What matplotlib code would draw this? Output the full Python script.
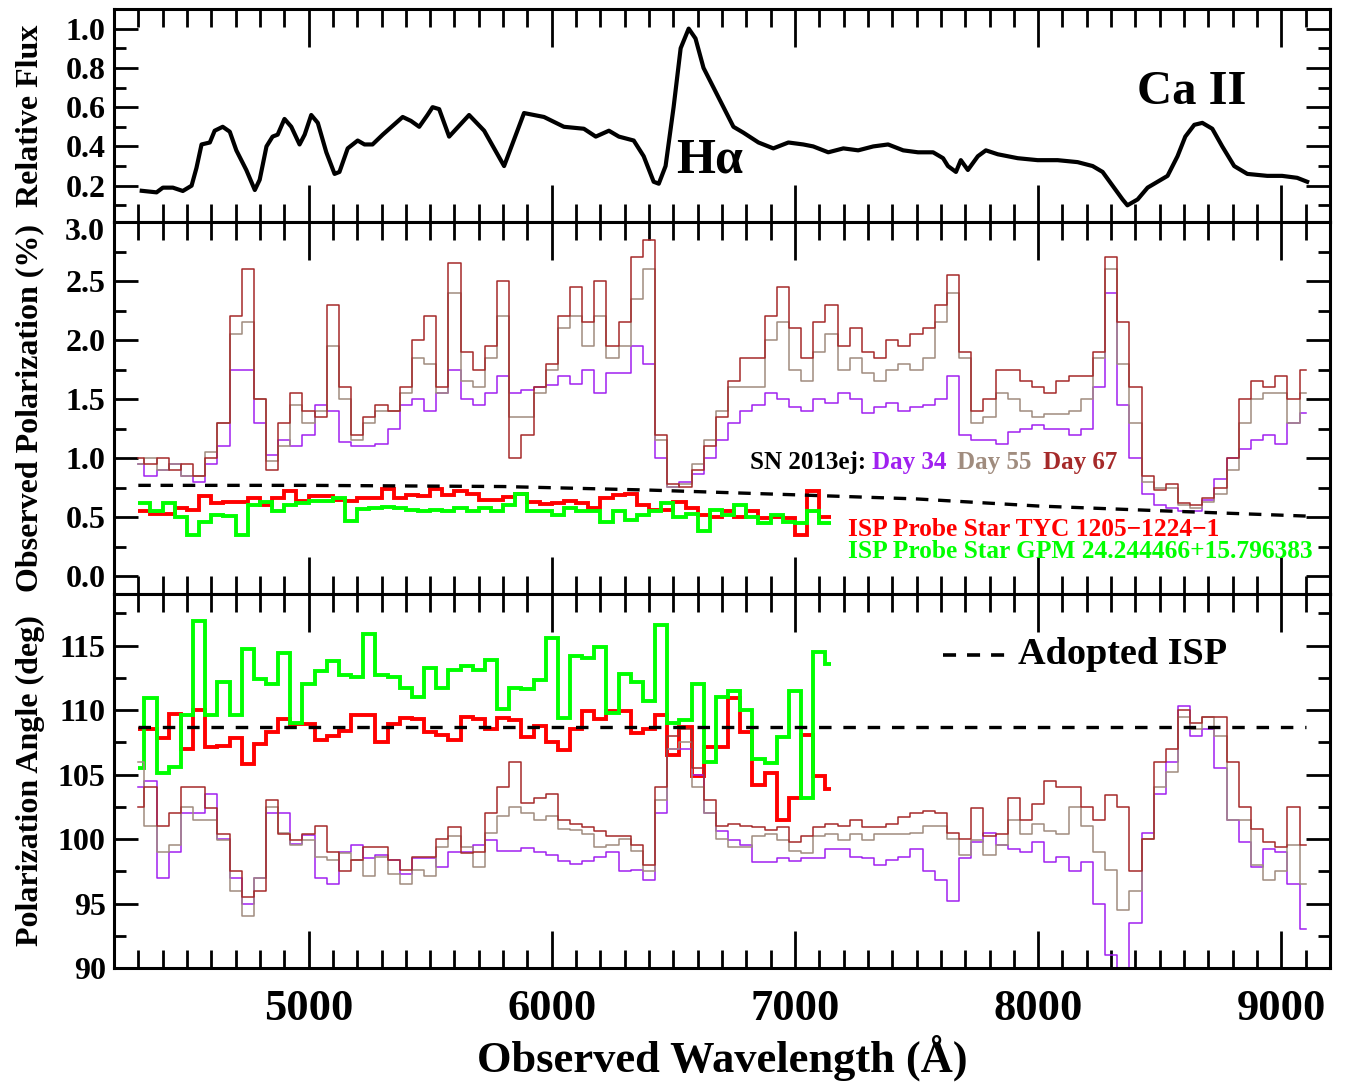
import numpy as np
import matplotlib
matplotlib.use("Agg")
import matplotlib.pyplot as plt
from matplotlib.ticker import MultipleLocator, FormatStrFormatter, FuncFormatter
from matplotlib.lines import Line2D

plt.rcParams['font.family'] = ['Liberation Serif', 'DejaVu Serif']
plt.rcParams['font.weight'] = 'bold'
plt.rcParams['lines.scale_dashes'] = False

# ---------------- data ----------------
flux_wave = [4314, 4375, 4401, 4442, 4483, 4519, 4539, 4560, 4594, 4614, 4647, 4676, 4703, 4744, 4779, 4799,
             4827, 4852, 4873, 4901, 4929, 4963, 4984, 5011, 5038, 5073, 5107, 5127, 5161, 5202, 5230, 5263,
             5305, 5346, 5387, 5421, 5455, 5489, 5510, 5537, 5578, 5660, 5722, 5804, 5886, 5968, 6050, 6132,
             6181, 6235, 6276, 6337, 6378, 6419, 6440, 6468, 6501, 6530, 6563, 6591, 6624, 6665, 6706, 6747,
             6788, 6850, 6911, 6973, 7034, 7075, 7137, 7199, 7260, 7322, 7383, 7445, 7506, 7568, 7609, 7629,
             7662, 7682, 7711, 7752, 7785, 7834, 7916, 7998, 8080, 8162, 8224, 8265, 8306, 8347, 8367, 8409,
             8450, 8491, 8532, 8573, 8605, 8642, 8675, 8716, 8757, 8806, 8860, 8942, 9003, 9065, 9106]
flux = [0.174, 0.166, 0.19, 0.19, 0.173, 0.2, 0.29, 0.41, 0.42, 0.48, 0.5, 0.475, 0.38, 0.28, 0.178, 0.23,
        0.4, 0.45, 0.46, 0.54, 0.5, 0.41, 0.46, 0.56, 0.52, 0.37, 0.26, 0.27, 0.39, 0.43, 0.41, 0.41,
        0.46, 0.505, 0.55, 0.53, 0.5, 0.56, 0.6, 0.59, 0.45, 0.56, 0.48, 0.3, 0.57, 0.55, 0.5, 0.49,
        0.45, 0.48, 0.45, 0.43, 0.35, 0.22, 0.21, 0.3, 0.6, 0.9, 1.0, 0.95, 0.8, 0.7, 0.6, 0.5,
        0.47, 0.42, 0.39, 0.42, 0.41, 0.4, 0.37, 0.39, 0.38, 0.4, 0.41, 0.38, 0.37, 0.37, 0.34, 0.3,
        0.27, 0.33, 0.28, 0.35, 0.38, 0.36, 0.34, 0.33, 0.33, 0.32, 0.30, 0.27, 0.2, 0.13, 0.1, 0.13,
        0.19, 0.22, 0.25, 0.35, 0.45, 0.51, 0.52, 0.49, 0.4, 0.3, 0.26, 0.25, 0.25, 0.24, 0.22]

# SN 2013ej spectropolarimetry, 50 A bins from 4300 to 9100
sn_wave = np.arange(4300, 9101, 50)
pol_day34 = [0.95, 0.85, 0.9, 0.95, 0.85, 0.8, 0.95, 1.1, 1.75, 1.75, 1.3, 1.03,
             1.15, 1.1, 1.2, 1.45, 1.4, 1.14, 1.1, 1.1, 1.12, 1.25, 1.45, 1.5,
             1.4, 1.55, 1.75, 1.5, 1.45, 1.55, 1.7, 1.55, 1.58, 1.6, 1.62, 1.7,
             1.63, 1.75, 1.55, 1.72, 1.72, 1.95, 1.8, 1.0, 0.76, 0.8, 0.87, 1.0,
             1.15, 1.3, 1.4, 1.45, 1.55, 1.5, 1.43, 1.4, 1.5, 1.47, 1.55, 1.5,
             1.38, 1.43, 1.47, 1.4, 1.43, 1.45, 1.5, 1.7, 1.2, 1.15, 1.15, 1.12,
             1.22, 1.25, 1.28, 1.25, 1.25, 1.2, 1.25, 1.6, 2.4, 1.45, 1.0, 0.7,
             0.6, 0.58, 0.55, 0.55, 0.65, 0.82, 1.0, 1.08, 1.15, 1.2, 1.12, 1.3,
             1.38]
pol_day55 = [0.95, 1.0, 0.9, 0.95, 0.85, 0.85, 1.05, 1.3, 2.05, 2.15, 1.5, 0.98,
             1.1, 1.45, 1.3, 1.4, 1.95, 1.5, 1.15, 1.3, 1.4, 1.4, 1.55, 1.85,
             1.8, 1.55, 2.4, 1.65, 1.6, 1.85, 2.2, 1.35, 1.35, 1.55, 1.75, 2.1,
             2.2, 1.95, 2.2, 1.85, 1.95, 2.35, 2.6, 1.15, 0.76, 0.78, 0.95, 1.15,
             1.4, 1.6, 1.6, 1.6, 2.0, 2.15, 1.75, 1.65, 1.9, 2.05, 1.75, 1.85,
             1.72, 1.65, 1.75, 1.8, 1.75, 1.85, 2.15, 2.4, 1.85, 1.3, 1.35, 1.55,
             1.5, 1.4, 1.35, 1.37, 1.37, 1.4, 1.5, 1.85, 2.6, 1.8, 1.3, 0.8,
             0.75, 0.75, 0.6, 0.58, 0.63, 0.7, 0.9, 1.3, 1.5, 1.55, 1.55, 1.3,
             1.55]
pol_day67 = [1.0, 0.95, 1.0, 0.9, 0.95, 0.85, 1.0, 1.3, 2.2, 2.6, 1.5, 0.9,
             1.3, 1.55, 1.4, 1.35, 2.3, 1.6, 1.2, 1.35, 1.45, 1.4, 1.6, 2.0,
             2.2, 1.6, 2.65, 1.9, 1.75, 1.95, 2.5, 1.0, 1.2, 1.6, 1.8, 2.2,
             2.45, 2.15, 2.5, 1.95, 2.15, 2.7, 2.85, 1.2, 0.78, 0.76, 0.9, 1.1,
             1.35, 1.65, 1.85, 1.85, 2.2, 2.45, 2.1, 1.85, 2.15, 2.3, 1.95, 2.1,
             1.9, 1.85, 2.0, 1.95, 2.05, 2.1, 2.3, 2.55, 1.9, 1.4, 1.5, 1.75,
             1.75, 1.65, 1.6, 1.55, 1.65, 1.7, 1.7, 1.9, 2.7, 2.15, 1.6, 0.85,
             0.73, 0.78, 0.62, 0.6, 0.66, 0.75, 1.0, 1.5, 1.65, 1.6, 1.7, 1.5,
             1.75]

pa_day34 = [104.0, 104.5, 97.0, 99.0, 102.0, 102.0, 103.5, 100.0, 97.0, 95.0, 97.0, 102.0,
            102.0, 99.6, 100.3, 97.0, 96.5, 99.0, 99.5, 98.5, 98.8, 98.4, 97.3, 98.5,
            98.5, 97.8, 99.0, 99.0, 99.5, 99.9, 99.1, 99.1, 99.3, 99.0, 98.8, 98.3,
            98.1, 98.3, 98.6, 99.0, 97.5, 97.6, 96.8, 102.0, 107.0, 107.0, 105.0, 102.0,
            100.6, 99.9, 99.5, 98.2, 98.2, 98.5, 98.3, 98.5, 98.5, 99.2, 99.2, 98.6,
            98.5, 98.0, 98.4, 98.6, 99.2, 97.5, 96.8, 95.2, 98.5, 99.8, 100.5, 99.5,
            99.2, 99.0, 99.8, 98.2, 98.6, 97.5, 98.2, 95.0, 91.0, 89.5, 93.5, 100.5,
            103.5, 106.0, 110.3, 108.0, 108.5, 105.5, 101.5, 99.8, 97.8, 99.2, 99.0, 96.5,
            93.0]
pa_day55 = [106.0, 101.0, 99.0, 99.5, 102.5, 101.5, 101.5, 99.9, 96.0, 94.0, 97.0, 102.5,
            100.5, 99.5, 99.9, 98.6, 98.4, 98.9, 98.4, 97.1, 98.6, 97.3, 96.5, 97.6,
            97.1, 99.4, 100.2, 99.4, 97.8, 100.5, 101.8, 102.5, 102.0, 101.5, 101.8, 100.8,
            100.7, 100.4, 99.4, 99.5, 100.0, 99.1, 97.5, 103.0, 107.0, 107.5, 104.0, 102.0,
            100.0, 99.4, 99.4, 100.2, 100.4, 99.9, 99.1, 98.9, 100.2, 100.4, 99.9, 100.4,
            99.9, 100.4, 100.4, 100.4, 100.5, 101.0, 101.0, 100.0, 98.8, 99.9, 98.8, 99.5,
            101.5, 100.4, 101.2, 100.6, 100.4, 102.5, 101.0, 99.0, 97.6, 94.5, 96.0, 100.0,
            104.0, 105.2, 109.5, 108.5, 109.5, 108.0, 101.5, 101.5, 98.0, 96.8, 97.5, 99.5,
            96.5]
pa_day67 = [102.5, 104.0, 101.0, 102.0, 104.0, 104.0, 102.4, 100.4, 97.5, 95.5, 96.0, 103.0,
            100.4, 99.9, 100.4, 101.0, 99.0, 97.5, 98.4, 99.4, 99.4, 98.4, 97.6, 98.6,
            98.6, 100.0, 100.9, 98.9, 99.0, 102.0, 104.0, 106.0, 102.8, 103.2, 103.5, 101.5,
            101.2, 100.9, 100.6, 100.2, 100.2, 99.5, 98.0, 104.0, 108.0, 108.5, 105.5, 103.0,
            101.0, 101.2, 101.0, 100.9, 100.7, 100.9, 99.8, 100.2, 100.9, 101.2, 101.0, 101.5,
            100.9, 100.9, 101.2, 101.7, 102.0, 102.2, 102.0, 100.5, 100.0, 102.4, 100.2, 100.4,
            103.2, 101.5, 102.7, 104.5, 104.0, 104.0, 102.5, 101.5, 103.4, 102.5, 97.5, 100.0,
            106.0, 107.0, 110.0, 109.0, 109.5, 109.5, 106.0, 102.5, 100.8, 99.8, 99.4, 102.5,
            99.5]

# ISP probe stars: polarization (50 A bins 4300-7150)
star_pol_edges = np.arange(4300, 7151, 50)
pol_tyc = [0.55, 0.53, 0.53, 0.58, 0.56, 0.68, 0.62, 0.63, 0.63, 0.66, 0.60, 0.66,
           0.72, 0.64, 0.68, 0.68, 0.65, 0.64, 0.66, 0.66, 0.74, 0.66, 0.69, 0.68,
           0.74, 0.69, 0.72, 0.70, 0.65, 0.65, 0.67, 0.70, 0.63, 0.61, 0.62, 0.64,
           0.62, 0.58, 0.66, 0.69, 0.70, 0.60, 0.56, 0.56, 0.63, 0.58, 0.52, 0.50,
           0.55, 0.50, 0.55, 0.49, 0.50, 0.49, 0.35, 0.72, 0.50]
pol_gpm = [0.62, 0.55, 0.62, 0.50, 0.35, 0.46, 0.52, 0.51, 0.35, 0.60, 0.63, 0.55,
           0.60, 0.62, 0.64, 0.64, 0.66, 0.47, 0.57, 0.58, 0.59, 0.58, 0.56, 0.55,
           0.56, 0.55, 0.58, 0.55, 0.58, 0.55, 0.60, 0.70, 0.55, 0.55, 0.52, 0.58,
           0.55, 0.55, 0.46, 0.55, 0.48, 0.52, 0.55, 0.62, 0.50, 0.53, 0.38, 0.56,
           0.52, 0.60, 0.50, 0.45, 0.52, 0.46, 0.45, 0.55, 0.45]

# ISP probe stars: polarization angle
star_pa_edges = [4300] + list(range(4325, 7126, 50)) + [7150]
pa_tyc = [108.5, 108.5, 107.8, 109.7, 107.0, 110.0, 107.1, 107.2, 107.8, 105.8, 107.4, 108.3,
          109.3, 108.9, 108.9, 107.7, 108.0, 108.4, 109.6, 109.6, 107.5, 108.9, 109.4, 109.3,
          108.3, 108.1, 107.7, 109.5, 109.3, 108.5, 109.4, 109.2, 107.9, 108.8, 107.5, 106.9,
          108.5, 109.9, 109.3, 109.9, 109.9, 108.2, 108.5, 109.6, 106.5, 108.7, 104.9, 107.1,
          107.1, 110.9, 108.3, 104.2, 105.1, 101.5, 103.2, 108.1, 104.9, 103.9]
pa_gpm = [105.5, 110.9, 105.1, 105.6, 109.6, 116.9, 109.6, 112.2, 109.6, 114.7, 112.4, 112.0,
          114.4, 109.0, 112.0, 113.0, 113.8, 112.7, 112.6, 115.9, 112.7, 112.6, 111.7, 111.0,
          113.3, 111.7, 113.1, 113.4, 113.1, 113.9, 110.1, 111.7, 111.6, 112.3, 115.6, 109.4,
          114.2, 114.0, 114.9, 109.8, 112.8, 112.2, 110.7, 116.6, 109.0, 109.2, 112.0, 106.0,
          111.0, 111.5, 110.0, 106.2, 105.9, 107.9, 111.5, 103.2, 114.5, 113.6]

# Adopted ISP
isp_wave = [4300, 5000, 5800, 6400, 7000, 7500, 8000, 8500, 9100]
isp_pol = [0.77, 0.77, 0.76, 0.73, 0.69, 0.655, 0.595, 0.555, 0.51]
isp_pa_wave = [4300, 9100]
isp_pa = [108.7, 108.7]

C34 = '#A020F0'
C55 = '#A08C7E'
C67 = '#A52A2A'
CRED = '#FF0000'
CGRN = '#00FF00'

# ---------------- figure ----------------
W, H = 1347, 1082
fig = plt.figure(figsize=(W / 100, H / 100), dpi=100)
L, R = 114 / W, 1330 / W


def box(top_px, bot_px):
    return [L, 1 - bot_px / H, R - L, (bot_px - top_px) / H]


def fx(px):
    return px / W


def fy(py):
    return 1 - py / H


ax1 = fig.add_axes(box(9, 222))
ax2 = fig.add_axes(box(222, 594))
ax3 = fig.add_axes(box(594, 968))

YT = 23
for ax in (ax1, ax2, ax3):
    ax.set_xlim(4200, 9200)
    ax.xaxis.set_major_locator(MultipleLocator(1000))
    ax.xaxis.set_minor_locator(MultipleLocator(100))
    ax.tick_params(which='both', direction='in', top=True, right=True, width=2.0, labelsize=YT)
    ax.tick_params(axis='x', which='major', length=27)
    ax.tick_params(axis='x', which='minor', length=13)
    ax.tick_params(axis='y', which='major', length=17, pad=6)
    ax.tick_params(axis='y', which='minor', length=8.5)
    for s in ax.spines.values():
        s.set_linewidth(2.2)

ax1.tick_params(axis='x', labelbottom=False)
ax2.tick_params(axis='x', labelbottom=False)
ax3.tick_params(axis='x', labelsize=32, pad=15)

# Top panel: flux
ax1.plot(flux_wave, flux, color='black', lw=3.0, solid_joinstyle='round')
ax1.set_ylim(0.015, 1.1)
ax1.yaxis.set_minor_locator(MultipleLocator(0.1))
ax1.set_yticks([0.2, 0.4, 0.6, 0.8, 1.0])
ax1.yaxis.set_major_formatter(FormatStrFormatter('%.1f'))
ax1.set_ylabel('Relative Flux', fontsize=23, fontweight='bold')
ax1.text(6650, 0.33, 'H\u03b1', fontsize=36, fontweight='bold', ha='center', va='center')
ax1.text(8630, 0.675, 'Ca II', fontsize=35, fontweight='bold', ha='center', va='center')

# Middle panel: polarization
ax2.plot(sn_wave, pol_day34, drawstyle='steps-mid', color=C34, lw=1.1)
ax2.plot(sn_wave, pol_day55, drawstyle='steps-mid', color=C55, lw=1.1)
ax2.plot(sn_wave, pol_day67, drawstyle='steps-mid', color=C67, lw=1.1)
ax2.stairs(pol_tyc, star_pol_edges, baseline=None, color=CRED, lw=2.8)
ax2.stairs(pol_gpm, star_pol_edges, baseline=None, color=CGRN, lw=2.8)
ax2.plot(isp_wave, isp_pol, color='black', lw=2.4, dashes=(9, 7))
ax2.set_ylim(-0.15, 3.0)
ax2.yaxis.set_major_locator(MultipleLocator(0.5))
ax2.yaxis.set_minor_locator(MultipleLocator(0.25))
ax2.yaxis.set_major_formatter(FuncFormatter(lambda v, p: '' if v > 2.99 else '%.1f' % v))
ax2.set_ylabel('Observed Polarization (%)', fontsize=23, fontweight='bold')
fig.text(fx(105), fy(233), '3.0', fontsize=YT, fontweight='bold', ha='right', va='center')

# Bottom panel: angle
ax3.plot(sn_wave, pa_day34, drawstyle='steps-mid', color=C34, lw=1.1)
ax3.plot(sn_wave, pa_day55, drawstyle='steps-mid', color=C55, lw=1.1)
ax3.plot(sn_wave, pa_day67, drawstyle='steps-mid', color=C67, lw=1.1)
ax3.stairs(pa_tyc, star_pa_edges, baseline=None, color=CRED, lw=2.8)
ax3.stairs(pa_gpm, star_pa_edges, baseline=None, color=CGRN, lw=2.8)
ax3.plot(isp_pa_wave, isp_pa, color='black', lw=2.4, dashes=(9, 8.5))
ax3.set_ylim(90, 119)
ax3.yaxis.set_major_locator(MultipleLocator(5))
ax3.yaxis.set_minor_locator(MultipleLocator(2.5))
ax3.yaxis.set_major_formatter(FormatStrFormatter('%d'))
ax3.set_ylabel('Polarization Angle (deg)', fontsize=23, fontweight='bold')
ax3.set_xlabel('Observed Wavelength (\u00c5)', fontsize=32, fontweight='bold', labelpad=4)

for ax in (ax1, ax2, ax3):
    ax.yaxis.set_label_coords(-0.057, 0.5)

# legend texts
LT = 18
fig.text(fx(750), fy(463), 'SN 2013ej:', color='black', fontsize=LT, fontweight='bold', va='center', ha='left')
fig.text(fx(872), fy(463), 'Day 34', color=C34, fontsize=LT, fontweight='bold', va='center', ha='left')
fig.text(fx(957), fy(463), 'Day 55', color=C55, fontsize=LT, fontweight='bold', va='center', ha='left')
fig.text(fx(1043), fy(463), 'Day 67', color=C67, fontsize=LT, fontweight='bold', va='center', ha='left')
fig.text(fx(848), fy(530), 'ISP Probe Star TYC 1205\u22121224\u22121', color=CRED, fontsize=18.3,
         fontweight='bold', va='center', ha='left')
fig.text(fx(848), fy(552), 'ISP Probe Star GPM 24.244466+15.796383', color=CGRN, fontsize=18.3,
         fontweight='bold', va='center', ha='left')

fig.add_artist(Line2D([fx(943), fx(1005)], [fy(655), fy(655)], color='black', lw=2.6,
                      dashes=(9.4, 7.9), transform=fig.transFigure))
fig.text(fx(1018), fy(655), 'Adopted ISP', color='black', fontsize=27.5, fontweight='bold',
         va='center', ha='left')

fig.savefig('out.png', dpi=100)
